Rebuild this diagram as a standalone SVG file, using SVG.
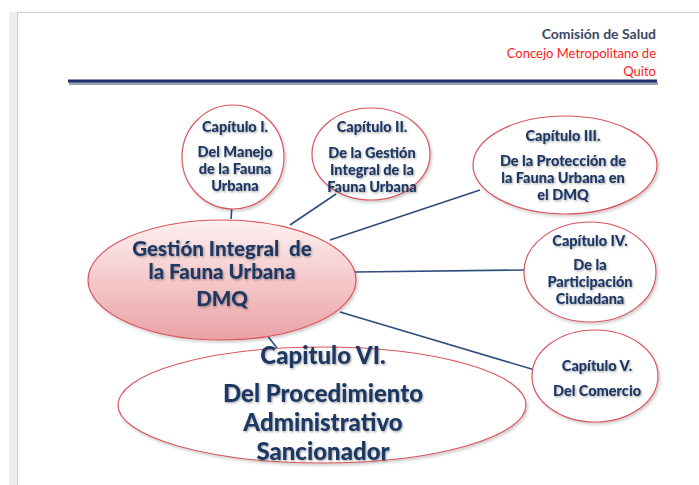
<svg xmlns="http://www.w3.org/2000/svg" width="699" height="485" viewBox="0 0 699 485">
<defs>
<linearGradient id="pink" x1="0" y1="0" x2="0" y2="1">
<stop offset="0" stop-color="#fdf0f0"/>
<stop offset="0.5" stop-color="#f5c9cb"/>
<stop offset="1" stop-color="#e9a2a6"/>
</linearGradient>
<filter id="ts" x="-10%" y="-20%" width="130%" height="160%">
<feDropShadow dx="1" dy="1.2" stdDeviation="0.8" flood-color="#000" flood-opacity="0.35"/>
</filter>
<filter id="es" x="-10%" y="-10%" width="125%" height="130%">
<feDropShadow dx="1.5" dy="2" stdDeviation="1.5" flood-color="#000" flood-opacity="0.2"/>
</filter>
</defs>
<style>
.t{font-family:Lato,"Open Sans","Liberation Sans",sans-serif;font-weight:900;fill:#1f3864;text-anchor:middle}
.s{font-size:14.5px}
.e{fill:#fff;stroke:#d9575e;stroke-width:1.2}
.c{stroke:#2e4d7b;stroke-width:1.6;fill:none}
.h{font-family:Lato,"Open Sans",sans-serif;font-size:13px;text-anchor:end}
</style>
<rect x="0" y="0" width="699" height="485" fill="#fff"/>
<rect x="9" y="12" width="8" height="473" fill="#eeeeee"/>
<path d="M17.5 485 V12.5 H699" fill="none" stroke="#cfcfcf" stroke-width="1"/>
<g id="header">
<line x1="68" y1="82" x2="657" y2="82" stroke="#9aa3b5" stroke-width="3" transform="translate(1,1.5)"/>
<line x1="68" y1="81" x2="657" y2="81" stroke="#1f2f6b" stroke-width="3"/>
<text class="h" x="656" y="39" font-weight="bold" font-size="14" fill="#3b4863" style="font-size:14px">Comisión de Salud</text>
<text class="h" x="656" y="58" fill="#ff1a1a">Concejo Metropolitano de</text>
<text class="h" x="656" y="76" fill="#ff1a1a">Quito</text>
</g>
<g id="connectors">
<line class="c" x1="232" y1="206" x2="231" y2="219"/>
<line class="c" x1="290" y1="225" x2="336" y2="194"/>
<line class="c" x1="330" y1="240" x2="480" y2="190"/>
<line class="c" x1="355" y1="272" x2="524" y2="270"/>
<line class="c" x1="340" y1="312" x2="535" y2="370"/>
<line class="c" x1="263" y1="330" x2="277" y2="348"/>
</g>
<g id="cap1">
<ellipse class="e" cx="233" cy="157" rx="51" ry="52" filter="url(#es)"/>
<text class="t s" filter="url(#ts)"><tspan x="235" y="132">Capítulo I.</tspan><tspan x="235" y="157">Del Manejo</tspan><tspan x="235" y="174">de la Fauna</tspan><tspan x="235" y="191">Urbana</tspan></text>
</g>
<g id="cap2">
<ellipse class="e" cx="371" cy="154" rx="59" ry="46" filter="url(#es)"/>
<text class="t s" filter="url(#ts)"><tspan x="372" y="132">Capítulo II.</tspan><tspan x="372" y="158">De la Gestión</tspan><tspan x="372" y="175">Integral de la</tspan><tspan x="372" y="192">Fauna Urbana</tspan></text>
</g>
<g id="cap3">
<ellipse class="e" cx="565" cy="165" rx="92" ry="49" filter="url(#es)"/>
<text class="t s" filter="url(#ts)"><tspan x="563" y="141">Capítulo III.</tspan><tspan x="563" y="166">De la Protección de</tspan><tspan x="563" y="183">la Fauna Urbana en</tspan><tspan x="563" y="200">el DMQ</tspan></text>
</g>
<g id="cap4">
<ellipse class="e" cx="590" cy="272" rx="66" ry="50" filter="url(#es)"/>
<text class="t s" filter="url(#ts)"><tspan x="590" y="246">Capítulo IV.</tspan><tspan x="590" y="270">De la</tspan><tspan x="590" y="287">Participación</tspan><tspan x="590" y="304">Ciudadana</tspan></text>
</g>
<g id="cap5">
<ellipse class="e" cx="595" cy="376" rx="63" ry="46" filter="url(#es)"/>
<text class="t s" filter="url(#ts)"><tspan x="597" y="371">Capítulo V.</tspan><tspan x="597" y="396">Del Comercio</tspan></text>
</g>
<g id="central">
<ellipse cx="222" cy="280" rx="134" ry="60" fill="url(#pink)" stroke="#d9575e" stroke-width="1.2" filter="url(#es)"/>
<text class="t" font-size="20.5" filter="url(#ts)"><tspan x="222" y="256">Gestión Integral&#160; de</tspan><tspan x="222" y="279">la Fauna Urbana</tspan><tspan x="222" y="306">DMQ</tspan></text>
</g>
<g id="cap6">
<ellipse class="e" cx="322" cy="405" rx="204" ry="58" filter="url(#es)"/>
<text class="t" font-size="24" filter="url(#ts)"><tspan x="323" y="364">Capitulo VI.</tspan><tspan x="323" y="402">Del Procedimiento</tspan><tspan x="323" y="431">Administrativo</tspan><tspan x="323" y="460">Sancionador</tspan></text>
</g>
</svg>
